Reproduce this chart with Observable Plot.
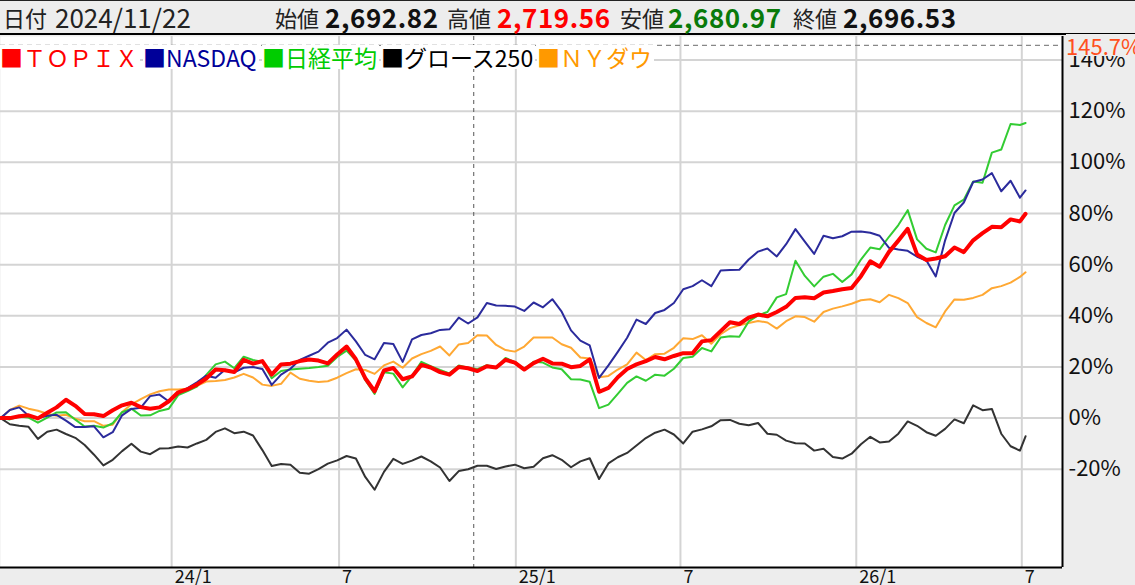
<!DOCTYPE html>
<html><head><meta charset="utf-8">
<script src="https://cdn.jsdelivr.net/npm/d3@7"></script>
<script src="https://cdn.jsdelivr.net/npm/@observablehq/plot@0.6"></script>
<style>
body{margin:0;width:1135px;height:585px;overflow:hidden;position:relative;background:#ededed;font-family:"Noto Sans CJK JP","Noto Sans",sans-serif;}
#hdr{position:absolute;left:0;top:0;width:1135px;height:32px;background:#ededed;border-top:1px solid #222;border-bottom:2px solid #000;}
#hdr span{position:absolute;top:0;line-height:32px;white-space:nowrap;}
#hdr .lab{font-size:22px;color:#222}
#hdr .date{font-size:26px;color:#222}
#hdr .num{font-size:26px;font-weight:bold;letter-spacing:0.6px}
#chart{position:absolute;left:0;top:35px;}
#legend{position:absolute;left:0;top:45px;width:700px;height:26px;font-size:23px;line-height:24px;white-space:nowrap}
#legend span{position:absolute;top:0;background:#fff;padding-right:2px}
#cross{position:absolute;font-size:22px;color:#ff5020;background:#ededed;left:1066px;line-height:22px;white-space:nowrap}
</style></head><body>
<div id="hdr"></div>
<div id="chart"></div>
<div id="legend"></div>
<div id="cross"></div>
<script>
const dates = ["2023-07-05","2023-07-15","2023-07-25","2023-08-04","2023-08-14","2023-08-24","2023-09-03","2023-09-13","2023-09-23","2023-10-03",
"2023-10-13","2023-10-23","2023-11-02","2023-11-12","2023-11-22","2023-12-02","2023-12-12","2023-12-22","2024-01-01","2024-01-11",
"2024-01-21","2024-01-31","2024-02-10","2024-02-20","2024-03-01","2024-03-11","2024-03-21","2024-03-31","2024-04-10","2024-04-20",
"2024-04-30","2024-05-10","2024-05-20","2024-05-30","2024-06-09","2024-06-19","2024-06-29","2024-07-09","2024-07-19","2024-07-29",
"2024-08-08","2024-08-18","2024-08-28","2024-09-07","2024-09-17","2024-09-27","2024-10-07","2024-10-17","2024-10-27","2024-11-06",
"2024-11-16","2024-11-26","2024-12-06","2024-12-16","2024-12-26","2025-01-05","2025-01-15","2025-01-25","2025-02-04","2025-02-14",
"2025-02-24","2025-03-06","2025-03-16","2025-03-26","2025-04-05","2025-04-15","2025-04-25","2025-05-05","2025-05-15","2025-05-25",
"2025-06-04","2025-06-14","2025-06-24","2025-07-04","2025-07-14","2025-07-24","2025-08-03","2025-08-13","2025-08-23","2025-09-02",
"2025-09-12","2025-09-22","2025-10-02","2025-10-12","2025-10-22","2025-11-01","2025-11-11","2025-11-21","2025-12-01","2025-12-11",
"2025-12-21","2025-12-31","2026-01-10","2026-01-20","2026-01-30","2026-02-09","2026-02-19","2026-03-01","2026-03-11","2026-03-21",
"2026-03-31","2026-04-10","2026-04-20","2026-04-30","2026-05-10","2026-05-20","2026-05-30","2026-06-09","2026-06-19","2026-06-29",
"2026-07-05"];

const topix = [0,0,0.7,1.1,-0.1,2.1,4.2,7.2,4.8,1.6,
1.5,0.8,3.1,5,6,4.3,3.7,4.2,6.6,10.1,
11.3,13.1,15.5,19,18.7,18,22.8,21.3,22.3,17,
21,21.3,22.3,22.9,22.5,21.4,24.9,28,23,15.6,
10.5,18.6,19.6,15.2,16.3,20.8,19.8,18,17,20,
19.5,18.4,20.3,19.8,22.8,21.7,19,21.5,23.2,21.4,
21.3,19.9,20.4,23,10.3,11.8,16,19.2,21,22.3,
23.9,23,24.3,25.4,25.4,30,30.5,34,37.5,36.8,
39.3,40.5,39.8,41.5,43.5,47,47.3,46.9,49.1,49.7,
50.4,50.9,55.5,61.3,59.2,65,69.4,74,64,61.8,
62.4,63.3,66.7,64.9,69.5,72.3,74.8,74.6,77.7,76.9,
79.9];

const nasdaq = [0,3.2,4.2,0.9,0,0.9,1.3,-1,-3.5,-3.5,
-3.2,-7.5,-5.5,1.1,3.6,4.1,8.6,9.2,6.5,9.6,
11.7,14,16.6,15.8,18.9,17.9,19.7,20,19.2,13,
17,19.3,22.8,24.4,26,29.5,31.3,34.6,30,24.7,
23,29.4,29,22,30.8,32.5,33.2,34.5,34.7,39.3,
37,39.4,45,44,43.9,43.6,41.9,45.2,43.3,46.5,
41.6,34.3,30.3,28.4,15.7,20.6,25.9,31.4,38.5,36.8,
41.1,42.3,45,50.4,51.6,53.9,51.6,57.7,57.9,58,
62,65.1,66.3,63.2,68,73.9,69,64.2,71.3,70.3,
71.1,72.9,73,72.5,71.3,66.6,65.9,65.4,63.1,61.6,
55.4,69.5,80.2,84.3,92.3,93.3,95.8,88.7,92.8,86.2,
89];

const nikkei = [0,-0.5,0.6,0.2,-1.8,0.2,2.2,2.3,-0.6,-3.3,
-3,-3.7,-2,2.3,3.7,1,1.1,2.8,3.7,9,
10.6,12.3,16.9,21,22.1,19.5,24,22.7,22,15.6,
18.4,19,19.3,19.6,20,20.5,23.9,26.4,22.5,14.9,
9.5,17.9,17.4,12,16.5,22,20.3,18.8,17.5,20.6,
19.7,19.1,20.7,19.7,23.5,21.9,19.2,22,21.7,19.8,
19.1,15.2,15.1,14.2,3.9,5.3,9.5,13.8,16.3,14.6,
17,16.6,19.3,23.5,24,27.4,26.1,31.5,32,31.8,
37.8,40.2,41.5,47.2,48.5,61.5,55.6,51.5,55.3,56.4,
53.2,56.2,62,66.7,66,70.9,75.5,81.3,69.9,66.2,
64.8,75.5,83.2,85.4,92.5,92,103.8,105,115,114.6,
115.4];

const growth250 = [0,-2.4,-3,-3.4,-8.1,-5.3,-4.5,-6.2,-7.7,-10.5,
-14.3,-18.5,-16.3,-12.9,-10,-13.1,-14.1,-11.9,-11.8,-11.1,
-11.5,-9.9,-8.5,-5.4,-4,-5.9,-5.3,-6.8,-12.5,-18.7,
-17.9,-18.2,-21.4,-21.7,-19.9,-17.8,-16.5,-14.8,-15.8,-23,
-28,-21,-15.9,-17.9,-16.6,-15,-16.9,-19.3,-24.6,-20.7,
-20,-18.6,-18.6,-19.9,-18.9,-18.2,-19.6,-19,-15.7,-14.5,
-16.3,-19.2,-16.9,-15.7,-23.8,-17.7,-15.3,-13.6,-10.7,-7.8,
-5.7,-4.5,-6.4,-9.9,-5.3,-4.4,-3.2,-0.8,-0.7,-2.2,
-2.8,-1.9,-6.1,-6.5,-8.8,-9.8,-9.9,-12.7,-12,-15.2,
-15.8,-13.9,-10.2,-7.3,-9.5,-9.1,-6.1,-1.3,-3,-5.5,
-6.9,-4.2,-0.5,-2,5,3.1,3.6,-6.1,-11,-12.7,
-7.1];

const nydow = [0,3.2,4.9,3.7,2.9,1.7,0.9,1.3,-0.2,-1.2,
-1.2,-3,-2.6,2.4,5.4,7.4,9.3,10.5,11.2,11.2,
11.5,12.6,14.3,14.5,14.9,15.9,17.3,15.9,13.1,12.6,
13.4,17.8,15.4,14.6,14.1,14.4,15.8,17.6,19.1,18.8,
17.3,20.6,22.1,19.7,23.3,25,26.3,28,24.5,28.8,
29.4,32.4,32.3,28.6,26.6,26,28,31.5,31.5,31.5,
28.9,27.5,23.7,23.3,16,16.5,19,21,25.6,22.7,
25,25.2,27.5,31.2,30.9,32.4,29.1,32.8,35.2,36.3,
37.2,38,37.4,35,37.9,39.8,39.5,37.7,41.5,42.8,
43.7,44.7,46.1,46.5,45.3,48.2,46.9,45,39.5,37.2,
35.5,41.7,46.4,46.3,47,48.2,50.8,51.6,53,55.2,
57];

const seriesNames = ["ＴＯＰＩＸ","NASDAQ","日経平均","グロース250","ＮＹダウ"];
const legendColors = ["#ff0000","#000099","#00cc00","#000000","#ff9900"];
const lineColors = ["#ff0000","#2b2b9c","#33cc33","#333333","#ffa833"];
const lineWidths = [4,2,2,2,2];
const drawOrder = [4,3,2,1,0];
const legendLeft = [0,143,262,381,537];

// first trading day of each labelled month
const xTickDates = ["2024-01-04","2024-07-01","2025-01-06","2025-07-01","2026-01-05","2026-07-01"];
const xTickLabels = ["24/1","7","25/1","7","26/1","7"];
const yTicks = [-20,0,20,40,60,80,100,120,140];

const headerDate = "2024/11/22";
const ohlcLabels = ["始値","高値","安値","終値"];
const ohlcValues = ["2,692.82","2,719.56","2,680.97","2,696.53"];
const ohlcColors = ["#111111","#ff0000","#0a7a0a","#111111"];
const crossDate = "2024-11-22";
const crossValue = 145.7;

// header
const hdr = document.getElementById("hdr");
const labLeft = [275,447,620,793], numLeft = [325,497,668,843];
let h = `<span class="lab" style="left:3px">日付</span><span class="date" style="left:55px">${headerDate}</span>`;
ohlcLabels.forEach((l,i)=>{
  h += `<span class="lab" style="left:${labLeft[i]}px">${l}</span>`;
  h += `<span class="num" style="left:${numLeft[i]}px;color:${ohlcColors[i]}">${ohlcValues[i]}</span>`;
});
hdr.innerHTML = h;

// legend
document.getElementById("legend").innerHTML = seriesNames.map((n,i)=>`<span style="left:${legendLeft[i]}px;color:${legendColors[i]}">■${n}</span>`).join("");

const seriesValues = [topix, nasdaq, nikkei, growth250, nydow];
const rows = [];
seriesValues.forEach((vals,s)=>vals.forEach((v,i)=>rows.push({series:seriesNames[s], date:new Date(dates[i]), value:v})));

const xDomain = [new Date("2023-07-05"), new Date("2026-08-13T12:00:00Z")];
const yDomain = [-58.4, 149.2];
const tickDateObjs = xTickDates.map(d=>new Date(d));
const labelMap = new Map(tickDateObjs.map((d,i)=>[+d, xTickLabels[i]]));

const chart = Plot.plot({
  width:1135, height:550,
  marginTop:1, marginBottom:18, marginLeft:0, marginRight:73,
  style:{background:"#ededed", fontFamily:"'Noto Sans CJK JP','Noto Sans',sans-serif", color:"#111"},
  x:{type:"utc", domain:xDomain, label:null},
  y:{domain:yDomain, label:null},
  marks:[
    Plot.frame({fill:"white", stroke:"none"}),
    Plot.ruleY(yTicks,{stroke:"#d4d4d4", strokeWidth:2}),
    Plot.ruleX(tickDateObjs,{stroke:"#d4d4d4", strokeWidth:2}),
    Plot.ruleX([new Date(crossDate)],{stroke:"#555", strokeWidth:1, strokeDasharray:"4,4"}),
    Plot.ruleY([crossValue],{stroke:"#888", strokeWidth:1.2, strokeDasharray:"5,4"}),
    ...drawOrder.map(s=>Plot.line(rows.filter(r=>r.series===seriesNames[s]),{x:"date", y:"value", stroke:lineColors[s], strokeWidth:lineWidths[s], strokeLinejoin:"round"})),
    Plot.ruleY([yDomain[0]],{stroke:"#000", strokeWidth:2}),
    Plot.ruleX([xDomain[1]],{stroke:"#000", strokeWidth:2}),
    Plot.axisY({anchor:"right", label:null, ticks:yTicks, tickSize:0, tickPadding:6, tickFormat:d=>d+"%", fontSize:22, fill:"#111"}),
    Plot.axisX({label:null, ticks:tickDateObjs, tickSize:0, tickPadding:3, textAnchor:"start", dx:3, fontSize:18, fill:"#111", tickFormat:d=>labelMap.get(+d)})
  ]
});
document.getElementById("chart").appendChild(chart);

const cross = document.getElementById("cross");
cross.textContent = crossValue.toFixed(1) + "%";
cross.style.top = (35 + chart.scale("y").apply(crossValue) - 11) + "px";
</script>
</body></html>
